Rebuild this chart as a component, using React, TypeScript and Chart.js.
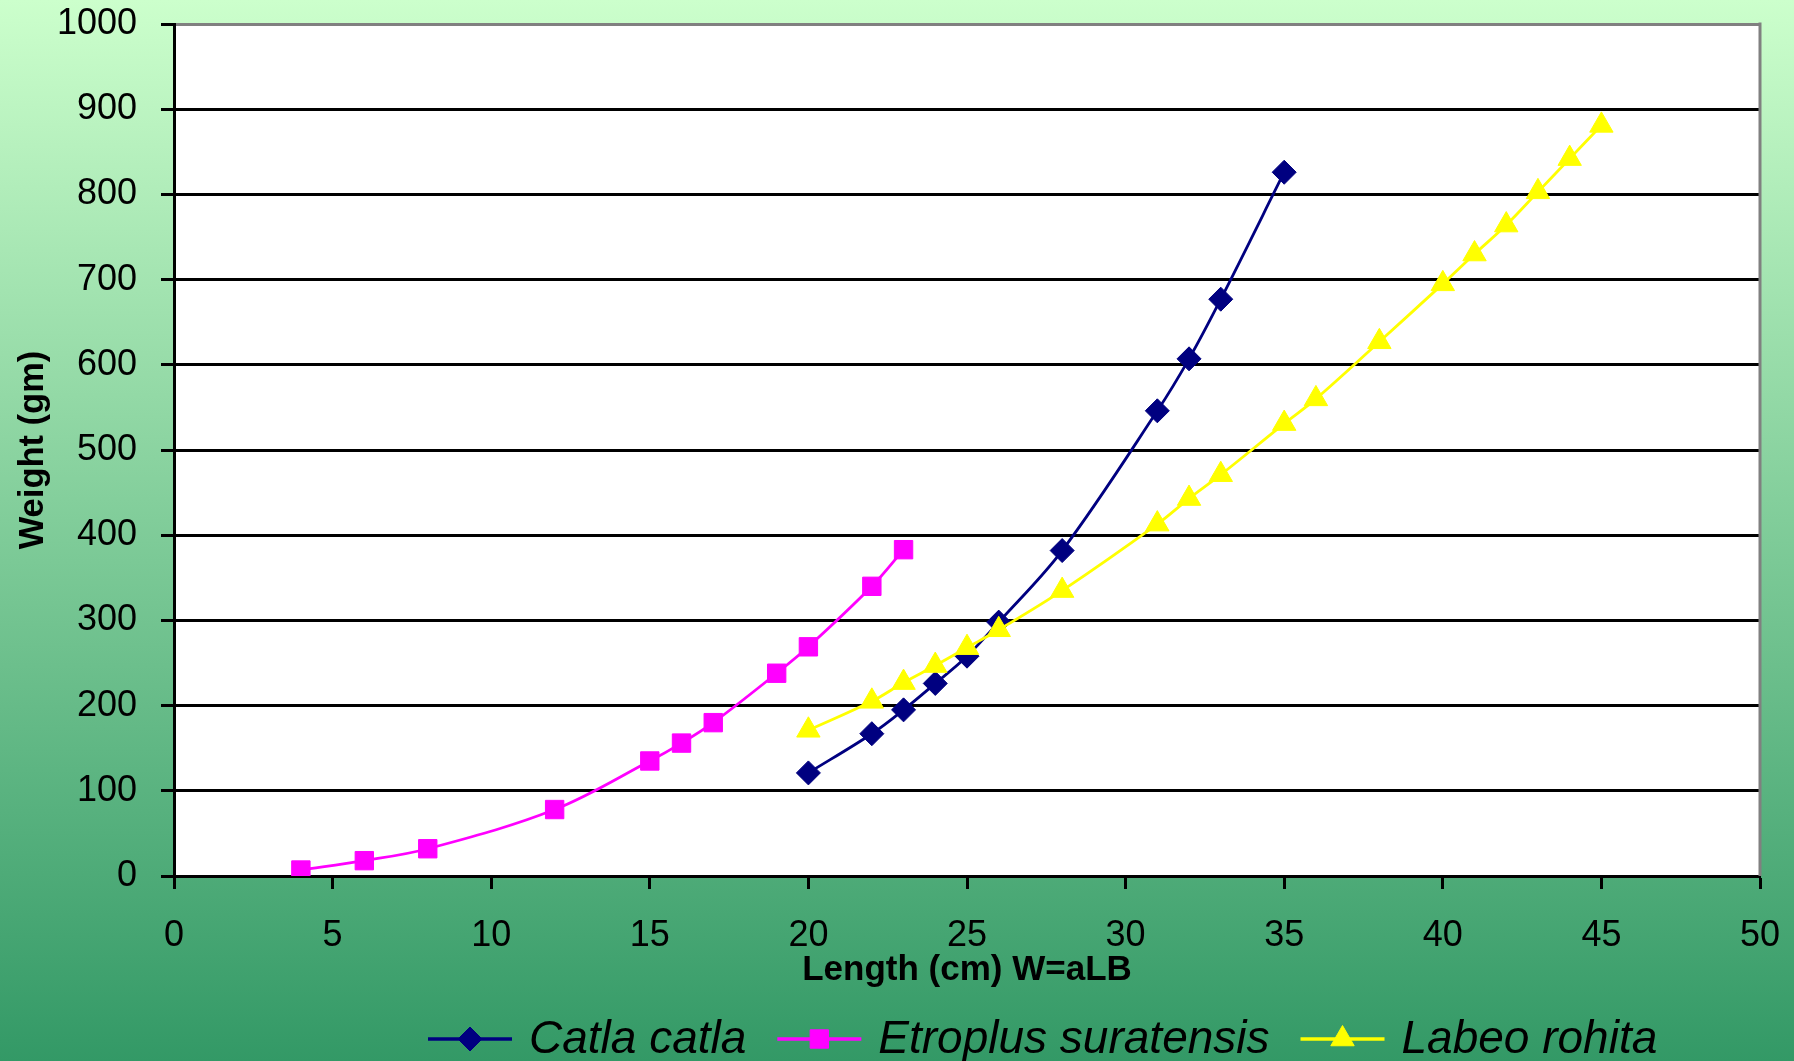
import { useEffect, useRef } from 'react';
import { Chart, registerables } from 'chart.js';

Chart.register(...registerables);

// Length (cm) and weight (gm) for each species
const catlaLength = [20, 22, 23, 24, 25, 26, 28, 31, 32, 33, 35];
const catlaWeight = [121, 167, 195, 226, 258, 298, 382, 546, 607, 677, 826];

const etroplusLength = [4, 6, 8, 12, 15, 16, 17, 19, 20, 22, 23];
const etroplusWeight = [7, 18, 32, 78, 135, 156, 180, 238, 269, 340, 383];

const labeoLength = [20, 22, 23, 24, 25, 26, 28, 31, 32, 33, 35, 36, 38, 40, 41, 42, 43, 44, 45];
const labeoWeight = [171, 205, 227, 247, 268, 289, 335, 413, 443, 471, 531, 560, 627, 695, 730, 764, 803, 842, 881];

const seriesNames = ['Catla catla', 'Etroplus suratensis', 'Labeo rohita'];

const xTickValues = [0, 5, 10, 15, 20, 25, 30, 35, 40, 45, 50];
const yTickValues = [0, 100, 200, 300, 400, 500, 600, 700, 800, 900, 1000];

const xTitle = 'Length (cm) W=aLB';
const yTitle = 'Weight (gm)';

const FONT = '"Liberation Sans", Arial, Helvetica, sans-serif';
Chart.defaults.font.family = FONT;

const toPoints = (xs: number[], ys: number[]) => xs.map((x, i) => ({ x, y: ys[i] }));

function drawMarker(ctx: CanvasRenderingContext2D, style: string, x: number, y: number, r: number, color: string) {
  ctx.fillStyle = color;
  ctx.strokeStyle = color;
  ctx.lineWidth = 1;
  ctx.beginPath();
  if (style === 'rectRot') {
    ctx.moveTo(x - r, y);
    ctx.lineTo(x, y - r);
    ctx.lineTo(x + r, y);
    ctx.lineTo(x, y + r);
  } else if (style === 'rect') {
    const s = Math.SQRT1_2 * r;
    ctx.rect(x - s, y - s, 2 * s, 2 * s);
  } else {
    ctx.moveTo(x, y - r);
    ctx.lineTo(x + 0.866 * r, y + 0.5 * r);
    ctx.lineTo(x - 0.866 * r, y + 0.5 * r);
  }
  ctx.closePath();
  ctx.fill();
  ctx.stroke();
}

// Gradient page fill, white plot area and grey right frame line
const frameBackground = {
  id: 'frameBackground',
  beforeDraw(chart: any) {
    const { ctx, width, height, chartArea } = chart;
    ctx.save();
    const g = ctx.createLinearGradient(0, 0, 0, height);
    g.addColorStop(0, '#CCFFCC');
    g.addColorStop(1, '#339966');
    ctx.fillStyle = g;
    ctx.fillRect(0, 0, width, height);
    ctx.fillStyle = '#FFFFFF';
    ctx.fillRect(chartArea.left, chartArea.top, chartArea.right - chartArea.left, chartArea.bottom - chartArea.top);
    ctx.restore();
  },
  beforeDatasetsDraw(chart: any) {
    const { ctx, chartArea } = chart;
    ctx.save();
    ctx.strokeStyle = '#808080';
    ctx.lineWidth = 3;
    ctx.beginPath();
    ctx.moveTo(chartArea.right, chartArea.top - 1.5);
    ctx.lineTo(chartArea.right, chartArea.bottom);
    ctx.stroke();
    ctx.restore();
  },
};

// Legend row with line + marker samples
const lineLegend = {
  id: 'lineLegend',
  afterDraw(chart: any) {
    const { ctx } = chart;
    const y = chart.height - 22;
    const sampleLen = 84;
    let x = 428;
    ctx.save();
    ctx.font = `italic 46px ${FONT}`;
    ctx.textBaseline = 'alphabetic';
    chart.data.datasets.forEach((ds: any) => {
      ctx.strokeStyle = ds.borderColor;
      ctx.lineWidth = 3.5;
      ctx.beginPath();
      ctx.moveTo(x, y);
      ctx.lineTo(x + sampleLen, y);
      ctx.stroke();
      drawMarker(ctx, ds.pointStyle, x + sampleLen / 2, y, ds.pointRadius, ds.borderColor);
      ctx.fillStyle = '#000000';
      const tx = x + sampleLen + 17;
      ctx.fillText(ds.label, tx, y + 14);
      x = tx + ctx.measureText(ds.label).width + 31;
    });
    ctx.restore();
  },
};

export default function App() {
  const canvasRef = useRef<HTMLCanvasElement | null>(null);

  useEffect(() => {
    if (!canvasRef.current) return;
    const chart = new Chart(canvasRef.current, {
      type: 'line',
      data: {
        datasets: [
          {
            label: seriesNames[0],
            data: toPoints(catlaLength, catlaWeight),
            borderColor: '#000080',
            backgroundColor: '#000080',
            pointStyle: 'rectRot',
            pointRadius: 12,
            pointBorderWidth: 1,
            borderWidth: 2.8,
            tension: 0.35,
            order: 2,
          },
          {
            label: seriesNames[1],
            data: toPoints(etroplusLength, etroplusWeight),
            borderColor: '#FF00FF',
            backgroundColor: '#FF00FF',
            pointStyle: 'rect',
            pointRadius: 13,
            pointBorderWidth: 1,
            borderWidth: 2.8,
            tension: 0.35,
            order: 1,
          },
          {
            label: seriesNames[2],
            data: toPoints(labeoLength, labeoWeight),
            borderColor: '#FFFF00',
            backgroundColor: '#FFFF00',
            pointStyle: 'triangle',
            pointRadius: 13.5,
            pointBorderWidth: 1,
            borderWidth: 2.8,
            tension: 0.35,
            order: 0,
          },
        ],
      } as any,
      options: {
        animation: false,
        responsive: false,
        layout: { padding: { top: 24, right: 34, left: 0, bottom: 0 } },
        plugins: { legend: { display: false }, tooltip: { enabled: false } },
        scales: {
          x: {
            type: 'linear',
            min: xTickValues[0],
            max: xTickValues[xTickValues.length - 1],
            afterBuildTicks: (s: any) => { s.ticks = xTickValues.map((v) => ({ value: v })); },
            ticks: { color: '#000000', font: { size: 36 }, padding: 25, maxRotation: 0, callback: (v: any) => String(v) },
            grid: { drawOnChartArea: false, drawTicks: true, tickLength: 13, tickColor: '#000000', tickWidth: 3 },
            border: { color: '#000000', width: 3 },
            title: { display: true, text: xTitle, color: '#000000', font: { size: 35, weight: 'bold' }, padding: { top: 0, bottom: 70 } },
            afterFit: (s: any) => { s.height = 185; s.paddingLeft = 0; s.paddingRight = 0; },
          },
          y: {
            type: 'linear',
            min: yTickValues[0],
            max: yTickValues[yTickValues.length - 1],
            afterBuildTicks: (s: any) => { s.ticks = yTickValues.map((v) => ({ value: v })); },
            ticks: { color: '#000000', font: { size: 36 }, padding: 24, callback: (v: any) => String(v) },
            grid: {
              color: (c: any) => (c.tick && c.tick.value === 1000 ? '#808080' : '#000000'),
              lineWidth: 3,
              drawTicks: true,
              tickLength: 13,
              tickColor: '#000000',
              tickWidth: 3,
            },
            border: { color: '#000000', width: 3 },
            title: { display: true, text: yTitle, color: '#000000', font: { size: 34.5, weight: 'bold' }, padding: { top: 13, bottom: 0 } },
            afterFit: (s: any) => { s.width = 174; s.paddingTop = 0; s.paddingBottom = 0; },
          },
        },
      } as any,
      plugins: [frameBackground, lineLegend],
    });
    return () => chart.destroy();
  }, []);

  return (
    <div style={{ position: 'absolute', left: 0, top: 0, width: 1794, height: 1061, overflow: 'hidden' }}>
      <canvas ref={canvasRef} width={1794} height={1061} style={{ display: 'block' }} />
    </div>
  );
}
